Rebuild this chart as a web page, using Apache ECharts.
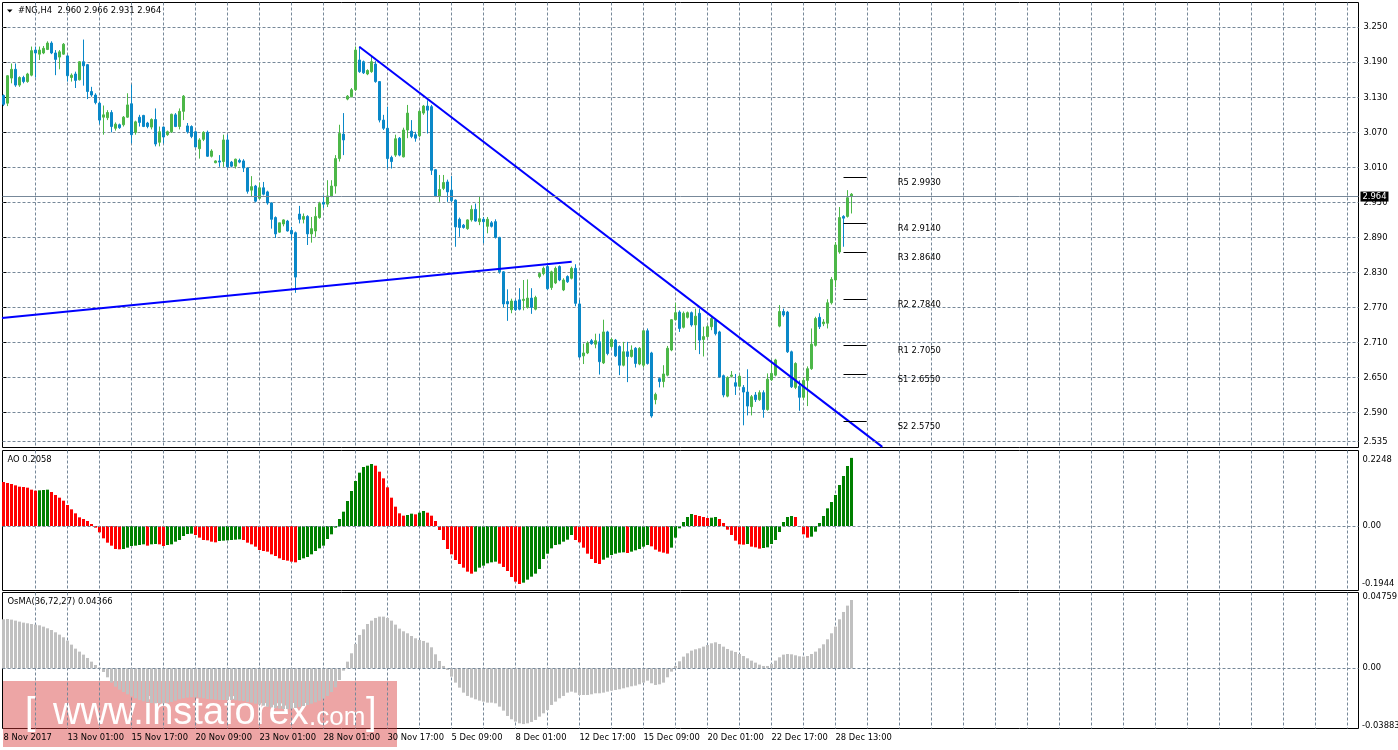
<!DOCTYPE html>
<html><head><meta charset="utf-8">
<script src="https://cdn.jsdelivr.net/npm/echarts@6/dist/echarts.min.js"></script>
<style>html,body{margin:0;padding:0;background:#fff}#c{width:1398px;height:750px}</style>
</head><body><div id="c"></div>
<script>
// ---------------- data ----------------
const symbolTitle = '#NG,H4';
const lastBarOHLC = ['2.960', '2.966', '2.931', '2.964'];
const aoHeaderValue = '0.2058';
const osmaHeaderText = 'OsMA(36,72,27)';
const osmaHeaderValue = '0.04366';
const timeLabels = ['8 Nov 2017', '13 Nov 01:00', '15 Nov 17:00', '20 Nov 09:00', '23 Nov 01:00', '28 Nov 01:00', '30 Nov 17:00', '5 Dec 09:00', '8 Dec 01:00', '12 Dec 17:00', '15 Dec 09:00', '20 Dec 01:00', '22 Dec 17:00', '28 Dec 13:00'];
const barsPerTimeLabel = 16;

const opens = [3.133,3.120,3.163,3.178,3.151,3.164,3.157,3.168,3.211,3.204,3.206,3.212,3.223,3.206,3.199,3.204,3.201,3.164,3.170,3.160,3.191,3.186,3.140,3.134,3.120,3.096,3.095,3.104,3.077,3.083,3.083,3.096,3.119,3.070,3.096,3.099,3.086,3.079,3.092,3.053,3.079,3.066,3.071,3.100,3.080,3.106,3.081,3.080,3.071,3.042,3.058,3.070,3.029,3.018,3.021,3.020,3.057,3.019,3.012,3.022,3.021,3.009,2.971,2.978,2.957,2.975,2.968,2.949,2.924,2.899,2.913,2.918,2.902,2.898,2.930,2.921,2.926,2.896,2.901,2.924,2.950,2.947,2.960,2.978,3.025,3.067,3.127,3.131,3.143,3.194,3.191,3.170,3.174,3.187,3.157,3.091,3.077,3.027,3.031,3.060,3.028,3.074,3.072,3.066,3.064,3.103,3.115,3.114,3.006,2.960,2.974,2.985,2.971,2.954,2.921,2.911,2.905,2.920,2.938,2.917,2.921,2.909,2.915,2.917,2.890,2.831,2.780,2.766,2.781,2.783,2.782,2.770,2.786,2.767,2.823,2.828,2.840,2.804,2.812,2.840,2.800,2.823,2.820,2.837,2.776,2.687,2.692,2.713,2.707,2.711,2.675,2.728,2.703,2.714,2.703,2.671,2.694,2.686,2.700,2.673,2.671,2.730,2.692,2.612,2.648,2.643,2.654,2.697,2.749,2.762,2.736,2.753,2.761,2.740,2.760,2.715,2.720,2.737,2.748,2.728,2.653,2.618,2.652,2.641,2.635,2.633,2.625,2.600,2.620,2.612,2.624,2.595,2.646,2.654,2.738,2.763,2.762,2.694,2.633,2.635,2.616,2.645,2.665,2.705,2.753,2.742,2.743,2.778,2.817,2.865,2.926,2.926,2.960];
const highs = [3.135,3.168,3.188,3.188,3.166,3.167,3.172,3.217,3.217,3.217,3.218,3.226,3.226,3.211,3.211,3.223,3.203,3.171,3.174,3.192,3.229,3.187,3.148,3.137,3.123,3.116,3.108,3.108,3.087,3.085,3.098,3.137,3.152,3.090,3.100,3.100,3.088,3.094,3.111,3.080,3.080,3.073,3.102,3.103,3.111,3.134,3.086,3.082,3.073,3.060,3.072,3.073,3.041,3.022,3.031,3.066,3.066,3.021,3.025,3.025,3.024,3.010,2.995,2.980,2.984,2.985,2.970,2.950,2.926,2.915,2.921,2.920,2.908,2.900,2.944,2.931,2.928,2.925,2.942,2.951,2.962,2.988,2.988,3.031,3.083,3.103,3.134,3.146,3.217,3.217,3.193,3.178,3.200,3.192,3.158,3.100,3.114,3.030,3.066,3.062,3.078,3.117,3.091,3.071,3.108,3.117,3.125,3.117,3.007,2.997,2.997,2.989,2.995,2.955,2.924,2.913,2.921,2.945,2.948,2.961,2.925,2.925,2.918,2.921,2.891,2.832,2.801,2.785,2.784,2.803,2.817,2.818,2.803,2.790,2.830,2.840,2.843,2.833,2.840,2.842,2.820,2.825,2.840,2.844,2.783,2.708,2.712,2.716,2.725,2.725,2.749,2.730,2.718,2.716,2.705,2.711,2.711,2.705,2.702,2.702,2.731,2.734,2.694,2.624,2.650,2.671,2.704,2.750,2.778,2.765,2.763,2.763,2.763,2.768,2.768,2.737,2.740,2.754,2.751,2.730,2.655,2.652,2.661,2.656,2.655,2.637,2.664,2.620,2.625,2.628,2.628,2.657,2.680,2.682,2.774,2.768,2.764,2.696,2.676,2.645,2.650,2.669,2.734,2.754,2.760,2.750,2.784,2.822,2.882,2.942,2.928,2.971,2.966];
const lows = [3.115,3.115,3.154,3.148,3.148,3.154,3.155,3.166,3.164,3.194,3.204,3.211,3.204,3.168,3.178,3.203,3.157,3.157,3.146,3.159,3.150,3.127,3.131,3.118,3.084,3.066,3.091,3.070,3.073,3.076,3.080,3.095,3.051,3.066,3.080,3.079,3.077,3.075,3.046,3.046,3.051,3.064,3.069,3.079,3.075,3.091,3.068,3.060,3.044,3.025,3.055,3.028,3.027,3.017,3.011,3.011,3.009,3.010,3.008,3.017,3.002,2.965,2.960,2.950,2.955,2.962,2.946,2.905,2.889,2.898,2.909,2.900,2.885,2.795,2.914,2.914,2.877,2.881,2.891,2.922,2.940,2.942,2.959,2.965,3.020,3.031,3.125,3.130,3.141,3.172,3.170,3.168,3.172,3.155,3.087,3.074,3.008,3.008,3.028,3.029,3.027,3.060,3.060,3.054,3.062,3.100,3.068,2.997,2.959,2.951,2.971,2.951,2.950,2.874,2.891,2.905,2.903,2.917,2.917,2.911,2.880,2.897,2.907,2.888,2.828,2.770,2.747,2.760,2.764,2.765,2.765,2.768,2.759,2.765,2.820,2.825,2.800,2.800,2.810,2.815,2.798,2.812,2.818,2.772,2.683,2.673,2.690,2.706,2.700,2.655,2.673,2.688,2.700,2.685,2.654,2.669,2.642,2.684,2.667,2.671,2.667,2.672,2.581,2.604,2.633,2.633,2.652,2.695,2.748,2.728,2.734,2.751,2.737,2.697,2.690,2.686,2.718,2.731,2.722,2.650,2.616,2.616,2.650,2.620,2.633,2.568,2.585,2.585,2.608,2.610,2.581,2.593,2.644,2.652,2.736,2.754,2.692,2.632,2.630,2.593,2.612,2.601,2.663,2.703,2.733,2.738,2.734,2.775,2.805,2.862,2.874,2.924,2.931];
const closes = [3.118,3.167,3.178,3.151,3.164,3.157,3.170,3.210,3.206,3.211,3.214,3.223,3.206,3.195,3.208,3.221,3.167,3.168,3.159,3.191,3.184,3.140,3.134,3.121,3.091,3.100,3.104,3.080,3.084,3.078,3.096,3.117,3.066,3.088,3.087,3.080,3.080,3.092,3.050,3.071,3.062,3.071,3.101,3.080,3.106,3.132,3.071,3.063,3.045,3.057,3.070,3.029,3.038,3.021,3.019,3.057,3.011,3.012,3.024,3.019,3.009,2.969,2.977,2.952,2.975,2.964,2.949,2.921,2.896,2.915,2.920,2.901,2.896,2.822,2.921,2.926,2.896,2.905,2.926,2.948,2.947,2.961,2.978,3.025,3.068,3.057,3.132,3.143,3.211,3.174,3.172,3.176,3.191,3.157,3.091,3.077,3.025,3.020,3.059,3.031,3.074,3.103,3.063,3.060,3.106,3.115,3.108,3.005,2.961,2.972,2.984,2.968,2.953,2.908,2.907,2.907,2.920,2.938,2.918,2.922,2.917,2.921,2.909,2.890,2.831,2.776,2.776,2.781,2.766,2.767,2.784,2.786,2.770,2.787,2.828,2.837,2.802,2.831,2.837,2.817,2.817,2.814,2.837,2.777,2.685,2.692,2.709,2.708,2.713,2.677,2.728,2.691,2.715,2.687,2.671,2.694,2.686,2.697,2.674,2.700,2.730,2.674,2.584,2.621,2.643,2.656,2.700,2.749,2.761,2.734,2.760,2.761,2.740,2.755,2.714,2.720,2.737,2.751,2.725,2.651,2.620,2.650,2.654,2.635,2.652,2.625,2.601,2.617,2.612,2.624,2.595,2.647,2.657,2.680,2.763,2.757,2.694,2.634,2.674,2.616,2.645,2.665,2.707,2.751,2.737,2.745,2.778,2.818,2.877,2.924,2.923,2.958,2.964];

const aoValues = [0.1452,0.1419,0.1386,0.1342,0.1298,0.1287,0.1265,0.1199,0.1166,0.1177,0.1188,0.1199,0.1122,0.1023,0.0935,0.0836,0.0693,0.0550,0.0418,0.0286,0.0231,0.0165,0.0066,-0.0055,-0.0209,-0.0407,-0.0550,-0.0649,-0.0759,-0.0770,-0.0759,-0.0715,-0.0660,-0.0649,-0.0627,-0.0605,-0.0649,-0.0605,-0.0594,-0.0605,-0.0660,-0.0627,-0.0605,-0.0517,-0.0462,-0.0330,-0.0264,-0.0253,-0.0297,-0.0385,-0.0462,-0.0473,-0.0517,-0.0539,-0.0495,-0.0484,-0.0473,-0.0462,-0.0451,-0.0440,-0.0462,-0.0550,-0.0605,-0.0682,-0.0792,-0.0825,-0.0847,-0.0935,-0.0990,-0.1067,-0.1122,-0.1144,-0.1177,-0.1199,-0.1122,-0.1067,-0.1023,-0.0935,-0.0825,-0.0737,-0.0649,-0.0429,-0.0275,-0.0055,0.0231,0.0473,0.0825,0.1155,0.1485,0.1760,0.1947,0.1991,0.2046,0.1991,0.1793,0.1573,0.1276,0.0935,0.0638,0.0418,0.0341,0.0363,0.0407,0.0385,0.0440,0.0495,0.0440,0.0341,0.0165,-0.0132,-0.0462,-0.0759,-0.0935,-0.1122,-0.1254,-0.1375,-0.1507,-0.1573,-0.1507,-0.1375,-0.1309,-0.1232,-0.1199,-0.1177,-0.1243,-0.1353,-0.1485,-0.1683,-0.1837,-0.1914,-0.1870,-0.1771,-0.1672,-0.1573,-0.1419,-0.1089,-0.0913,-0.0737,-0.0627,-0.0605,-0.0517,-0.0451,-0.0297,-0.0462,-0.0539,-0.0715,-0.0913,-0.1089,-0.1221,-0.1254,-0.1111,-0.1045,-0.0957,-0.0913,-0.0880,-0.0869,-0.0891,-0.0847,-0.0803,-0.0759,-0.0682,-0.0627,-0.0671,-0.0781,-0.0847,-0.0880,-0.0913,-0.0715,-0.0385,-0.0077,0.0132,0.0297,0.0396,0.0363,0.0330,0.0297,0.0264,0.0275,0.0297,0.0231,0.0099,-0.0121,-0.0297,-0.0484,-0.0605,-0.0616,-0.0594,-0.0682,-0.0704,-0.0748,-0.0726,-0.0704,-0.0594,-0.0462,-0.0198,0.0132,0.0297,0.0330,0.0297,-0.0022,-0.0275,-0.0385,-0.0352,-0.0187,0.0099,0.0330,0.0583,0.0792,0.1023,0.1353,0.1650,0.1980,0.2248];
const osmaValues = [0.03413,0.03436,0.03390,0.03320,0.03251,0.03181,0.03135,0.03088,0.03042,0.02995,0.02902,0.02786,0.02670,0.02508,0.02345,0.02159,0.01927,0.01649,0.01370,0.01161,0.00952,0.00720,0.00464,0.00232,0.00046,-0.00255,-0.00627,-0.00998,-0.01277,-0.01486,-0.01649,-0.01811,-0.01950,-0.02090,-0.02206,-0.02299,-0.02368,-0.02415,-0.02438,-0.02438,-0.02438,-0.02392,-0.02345,-0.02252,-0.02159,-0.02090,-0.02043,-0.02020,-0.02020,-0.02043,-0.02090,-0.02136,-0.02159,-0.02183,-0.02206,-0.02206,-0.02206,-0.02206,-0.02229,-0.02252,-0.02276,-0.02345,-0.02392,-0.02461,-0.02531,-0.02601,-0.02670,-0.02717,-0.02763,-0.02810,-0.02833,-0.02833,-0.02810,-0.02763,-0.02694,-0.02624,-0.02554,-0.02461,-0.02368,-0.02252,-0.02113,-0.01927,-0.01649,-0.01324,-0.00813,-0.00163,0.00464,0.01045,0.01695,0.02322,0.02717,0.03088,0.03320,0.03506,0.03599,0.03599,0.03506,0.03320,0.03042,0.02763,0.02577,0.02438,0.02252,0.02090,0.01974,0.01904,0.01788,0.01463,0.00975,0.00511,0.00163,-0.00116,-0.00581,-0.00998,-0.01347,-0.01695,-0.01927,-0.02043,-0.02159,-0.02252,-0.02322,-0.02392,-0.02392,-0.02438,-0.02670,-0.02949,-0.03320,-0.03553,-0.03715,-0.03831,-0.03883,-0.03831,-0.03738,-0.03599,-0.03367,-0.03135,-0.02902,-0.02554,-0.02322,-0.02090,-0.01927,-0.01695,-0.01625,-0.01695,-0.01858,-0.01858,-0.01858,-0.01811,-0.01741,-0.01741,-0.01695,-0.01625,-0.01556,-0.01509,-0.01463,-0.01393,-0.01324,-0.01254,-0.01207,-0.01115,-0.00998,-0.00859,-0.01045,-0.01161,-0.01115,-0.00998,-0.00627,-0.00232,0.00163,0.00488,0.00813,0.01045,0.01231,0.01324,0.01393,0.01509,0.01625,0.01741,0.01811,0.01695,0.01509,0.01347,0.01231,0.01138,0.00998,0.00859,0.00697,0.00534,0.00395,0.00255,0.00163,0.00163,0.00302,0.00534,0.00766,0.00952,0.00998,0.00975,0.00906,0.00836,0.00813,0.00859,0.00998,0.01161,0.01393,0.01672,0.02020,0.02438,0.02902,0.03413,0.03924,0.04366,0.04759];

const priceTicksStart = 2.53, priceTickStep = 0.06;
const priceBottomLabel = 2.535;
const currentPrice = 2.964;
const pivotNames = ['R5', 'R4', 'R3', 'R2', 'R1', 'S1', 'S2'];
const pivotLevels = [2.9930, 2.9140, 2.8640, 2.7840, 2.7050, 2.6550, 2.5750];
const pivotSpan = [210, 215.8];     // bar range of the short pivot segments
const pivotLabelBar = 223.45;
const trendDown = [[88.95, 3.2167], [219.7, 2.531]];
const trendUp = [[-0.375, 2.7517], [142.05, 2.8482]];
const aoAxisLabels = [0.2248, -0.1944];
const osmaAxisLabels = [0.04759, -0.03883];

// ---------------- styling ----------------
const FONT = 'DejaVu Sans';
const FS = 8.4;
const GRID_C = '#778899';
const DASH = [3, 2];
const BULL = '#4CB748', BEAR = '#0A88C8';
const AO_UP = '#008000', AO_DN = '#FF0000', OSMA_C = '#C0C0C0';
const CLEAR = 'rgba(0,0,0,0)';

const candleData = opens.map((o, i) => [i, o, closes[i], lows[i], highs[i]]);
const aoData = aoValues.map((v, i) => ({
  value: [i, v],
  itemStyle: { color: (i > 0 && v > aoValues[i - 1]) ? AO_UP : AO_DN }
}));
const osmaData = osmaValues.map((v, i) => [i, v]);

const lbl = (txt, dist, extra) => Object.assign({
  show: true, position: 'end', formatter: txt, distance: dist,
  color: '#000', fontFamily: FONT, fontSize: FS
}, extra || {});
const hiddenLine = { color: CLEAR, width: 1 };

const panelX = { type: 'value', min: -0.25, max: 338.75, show: false };
const vlineX = (gi, withLabels) => ({
  type: 'value', gridIndex: gi, min: 0, max: 338.5, interval: 8,
  axisLine: { show: false }, axisTick: { show: false },
  axisLabel: withLabels ? {
    show: true, align: 'left', margin: 5.5, color: '#000', fontFamily: FONT, fontSize: FS,
    showMinLabel: true, showMaxLabel: false,
    formatter: v => (Math.round(v) % barsPerTimeLabel === 0 ? (timeLabels[Math.round(v) / barsPerTimeLabel] || '') : '')
  } : { show: false },
  splitLine: { show: true, showMinLine: false, showMaxLine: false, lineStyle: { color: GRID_C, type: DASH, width: 1 } }
});
const hiddenY = gi => ({ type: 'value', gridIndex: gi, show: false, min: 0, max: 1 });

const option = {
  animation: false,
  backgroundColor: '#fff',
  textStyle: { fontFamily: FONT },
  grid: [
    { left: 2.5, top: 2.5, width: 1356, height: 445, show: true, borderColor: '#000', borderWidth: 1, backgroundColor: 'transparent' },
    { left: 3.5, top: 2.5, width: 1354, height: 445 },
    { left: 2.5, top: 450.5, width: 1356, height: 140, show: true, borderColor: '#000', borderWidth: 1, backgroundColor: 'transparent' },
    { left: 3.5, top: 450.5, width: 1354, height: 140 },
    { left: 2.5, top: 592.5, width: 1356, height: 136, show: true, borderColor: '#000', borderWidth: 1, backgroundColor: 'transparent' },
    { left: 3.5, top: 592.5, width: 1354, height: 136 }
  ],
  xAxis: [
    Object.assign({ gridIndex: 0 }, panelX),
    vlineX(1, false),
    Object.assign({ gridIndex: 2 }, panelX),
    vlineX(3, false),
    Object.assign({ gridIndex: 4 }, panelX),
    vlineX(5, true)
  ],
  yAxis: [
    {
      type: 'value', gridIndex: 0, position: 'right', min: priceTicksStart, max: 3.2925, interval: priceTickStep,
      axisLine: { show: false },
      axisTick: { show: true, length: 3, lineStyle: { color: '#000' } },
      axisLabel: { show: true, margin: 5, color: '#000', fontFamily: FONT, fontSize: FS, showMinLabel: false, showMaxLabel: false, formatter: v => v.toFixed(3) },
      splitLine: { show: true, showMinLine: false, showMaxLine: false, lineStyle: { color: GRID_C, type: DASH, width: 1 } }
    },
    hiddenY(1),
    { type: 'value', gridIndex: 2, show: false, min: -0.21287, max: 0.24917 },
    hiddenY(3),
    { type: 'value', gridIndex: 4, show: false, min: -0.04193, max: 0.05280 },
    hiddenY(5)
  ],
  series: [
    {
      type: 'candlestick', xAxisIndex: 0, yAxisIndex: 0, data: candleData,
      encode: { x: 0, y: [1, 2, 3, 4] }, barWidth: 2, clip: false,
      itemStyle: { color: BULL, color0: BEAR, borderColor: BULL, borderColor0: BEAR, borderWidth: 1 },
      markLine: {
        symbol: 'none', silent: true, animation: false,
        data: [
          { yAxis: priceBottomLabel, lineStyle: { color: GRID_C, type: DASH, width: 1 }, label: lbl(priceBottomLabel.toFixed(3), 5) },
          { yAxis: currentPrice, lineStyle: { color: GRID_C, type: 'solid', width: 1 },
            label: lbl(currentPrice.toFixed(3), 2, { color: '#fff', backgroundColor: '#000', padding: [1, 2, 0, 2], lineHeight: 9 }) }
        ].concat(pivotLevels.map(l => [
          { coord: [pivotSpan[0], l], lineStyle: { color: '#000', type: 'solid', width: 1 }, label: { show: false } },
          { coord: [pivotSpan[1], l] }
        ]))
      }
    },
    {
      type: 'line', xAxisIndex: 0, yAxisIndex: 0, data: trendDown, symbol: 'none', clip: false,
      lineStyle: { color: '#0000FF', width: 2 }, silent: true
    },
    {
      type: 'line', xAxisIndex: 0, yAxisIndex: 0, data: trendUp, symbol: 'none', clip: false,
      lineStyle: { color: '#0000FF', width: 2 }, silent: true
    },
    {
      type: 'scatter', xAxisIndex: 0, yAxisIndex: 0, symbolSize: 1, itemStyle: { color: CLEAR }, silent: true,
      data: pivotLevels.map((l, k) => [pivotLabelBar, l, pivotNames[k]]),
      label: { show: true, position: 'right', distance: 0, offset: [0, 5.4], color: '#000', opacity: 1, fontFamily: FONT, fontSize: FS,
        formatter: p => p.data[2] + ' ' + p.data[1].toFixed(4) }
    },
    {
      type: 'bar', xAxisIndex: 2, yAxisIndex: 2, data: aoData, barWidth: 3, silent: true,
      markLine: {
        symbol: 'none', silent: true, animation: false,
        data: [
          { yAxis: 0, lineStyle: { color: GRID_C, type: DASH, width: 1 }, label: lbl('0.00', 4) },
          { yAxis: aoAxisLabels[0], lineStyle: hiddenLine, label: lbl(aoAxisLabels[0].toFixed(4), 4) },
          { yAxis: aoAxisLabels[1], lineStyle: hiddenLine, label: lbl(aoAxisLabels[1].toFixed(4), 3.5) }
        ]
      }
    },
    {
      type: 'bar', xAxisIndex: 4, yAxisIndex: 4, data: osmaData, barWidth: 3, silent: true,
      itemStyle: { color: OSMA_C },
      markLine: {
        symbol: 'none', silent: true, animation: false,
        data: [
          { yAxis: 0, lineStyle: { color: GRID_C, type: DASH, width: 1 }, label: lbl('0.00', 4) },
          { yAxis: osmaAxisLabels[0], lineStyle: hiddenLine, label: lbl(osmaAxisLabels[0].toFixed(5), 4) },
          { yAxis: osmaAxisLabels[1], lineStyle: hiddenLine, label: lbl(osmaAxisLabels[1].toFixed(5), 3.5) }
        ]
      }
    }
  ],
  graphic: [
    { type: 'polygon', shape: { points: [[7, 9.5], [12.5, 9.5], [9.75, 12.5]] }, style: { fill: '#000' }, silent: true },
    { type: 'text', x: 18, y: 11, silent: true,
      style: { text: symbolTitle + '  ' + lastBarOHLC.join(' '), fill: '#000', font: FS + 'px "' + FONT + '"', verticalAlign: 'middle' } },
    { type: 'text', x: 7.5, y: 459.5, silent: true,
      style: { text: 'AO ' + aoHeaderValue, fill: '#000', font: FS + 'px "' + FONT + '"', verticalAlign: 'middle' } },
    { type: 'text', x: 7.5, y: 602, silent: true,
      style: { text: osmaHeaderText + ' ' + osmaHeaderValue, fill: '#000', font: FS + 'px "' + FONT + '"', verticalAlign: 'middle' } },
    { type: 'group', z: 100, silent: true, children: [
      { type: 'rect', shape: { x: 3, y: 681, width: 394, height: 66 }, style: { fill: 'rgba(214,55,55,0.45)' } },
      { type: 'text', x: 25, y: 713.5, style: { text: '[', fill: '#fff', font: '38px "Liberation Sans"', verticalAlign: 'middle' } },
      { type: 'text', x: 53, y: 713.5, style: { text: 'www.instaforex', fill: '#fff', font: '38px "Liberation Sans"', verticalAlign: 'middle' } },
      { type: 'text', x: 309, y: 717.5, style: { text: '.com', fill: '#fff', font: '26px "Liberation Sans"', verticalAlign: 'middle' } },
      { type: 'text', x: 366, y: 713.5, style: { text: ']', fill: '#fff', font: '38px "Liberation Sans"', verticalAlign: 'middle' } }
    ] }
  ]
};

const chart = echarts.init(document.getElementById('c'), null, { renderer: 'canvas' });
chart.setOption(option);
</script>
</body></html>
